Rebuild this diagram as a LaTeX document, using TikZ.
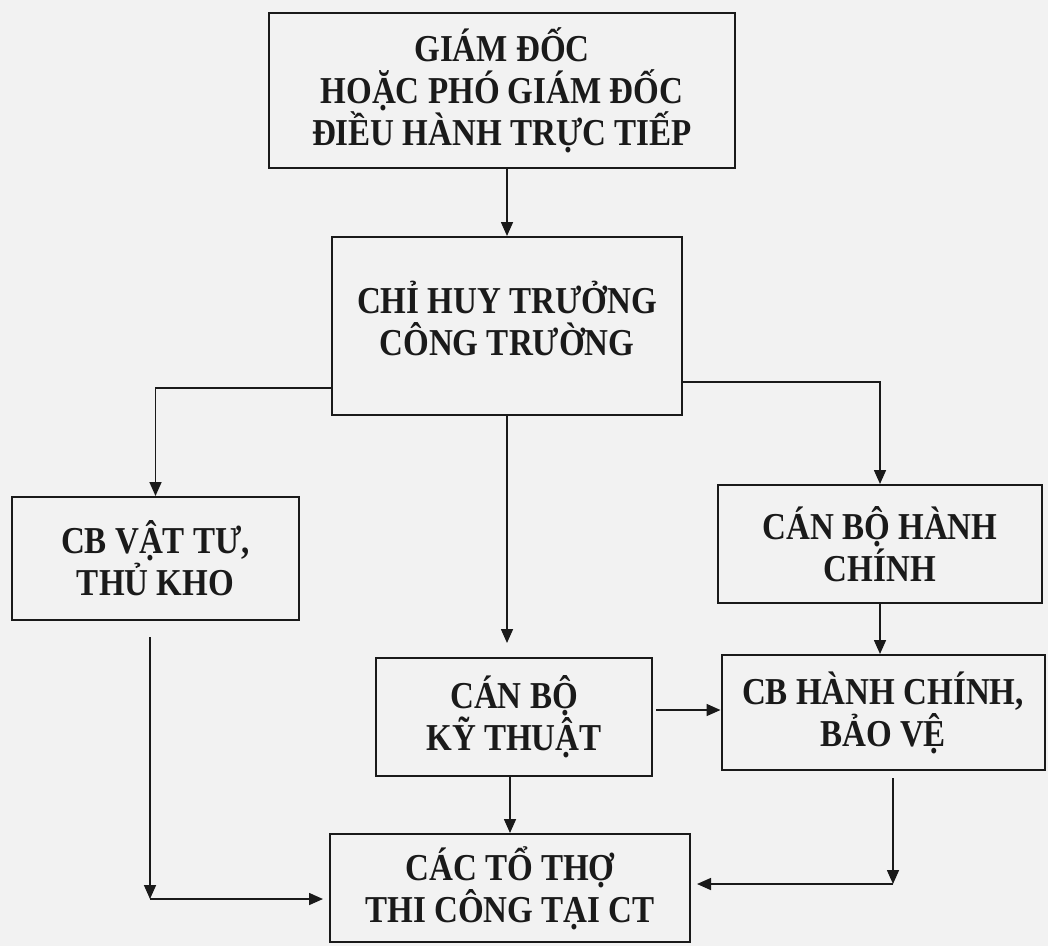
\documentclass[tikz,border=0pt]{standalone}
\usepackage{fontspec}
\setmainfont{Liberation Serif}[FakeStretch=0.87]
\usetikzlibrary{arrows.meta}
\definecolor{ink}{HTML}{1A1A1A}
\definecolor{paper}{HTML}{F2F2F2}
\begin{document}
\begin{tikzpicture}[x=1pt,y=-1pt,
  box/.style={draw=ink,text=ink,line width=2pt,rectangle,inner sep=0pt,align=center,
    font=\bfseries\fontsize{38}{42}\selectfont},
  conn/.style={draw=ink,line width=1.6pt,-{Triangle[length=14pt,width=12pt]}}]
\fill[paper] (0,0) rectangle (1048,946);
\useasboundingbox (0,0) rectangle (1048,946);
\node[box,minimum width=466pt,minimum height=155pt] (gd) at (502,90.5)
  {GIÁM ĐỐC\\HOẶC PHÓ GIÁM ĐỐC\\ĐIỀU HÀNH TRỰC TIẾP};
\node[box,minimum width=350pt,minimum height=178pt] (cht) at (507,326)
  {CHỈ HUY TRƯỞNG\\CÔNG TRƯỜNG\\[-26pt]};
\node[box,minimum width=287pt,minimum height=123pt] (vt) at (155.5,558.5)
  {CB VẬT TƯ,\\THỦ KHO};
\node[box,minimum width=324pt,minimum height=118pt] (hc) at (880,544)
  {CÁN BỘ HÀNH\\CHÍNH};
\node[box,minimum width=323pt,minimum height=115pt] (bv) at (883,712.5)
  {CB HÀNH CHÍNH,\\BẢO VỆ};
\node[box,minimum width=276pt,minimum height=118pt] (kt) at (514,717)
  {CÁN BỘ\\KỸ THUẬT};
\node[box,minimum width=360pt,minimum height=108pt] (tt) at (510,888)
  {CÁC TỔ THỢ\\THI CÔNG TẠI CT};
\coordinate (l2) at (150,899);
\coordinate (r2) at (893,884);
\draw[conn] (cht.north |- gd.south) -- (cht.north);
\draw[conn] ([yshift=-62pt]cht.west) -| (vt.north);
\draw[conn] ([yshift=-56pt]cht.east) -| (hc.north);
\draw[conn,shorten >=14pt] (cht.south) -- (cht.south |- kt.north);
\draw[conn] (hc.south) -- (hc.south |- bv.north);
\draw[conn,shorten <=3pt] ([yshift=7pt]kt.east) -- ([yshift=7pt]kt.east -| bv.west);
\draw[conn] (tt.north |- kt.south) -- (tt.north);
\draw[conn,shorten <=16pt] (vt.south -| l2) -- (l2);
\draw[conn,shorten >=6pt] (l2) -- (l2 -| tt.west);
\draw[conn,shorten <=7pt] (bv.south -| r2) -- (r2);
\draw[conn,shorten >=6pt] (r2) -- (r2 -| tt.east);
\end{tikzpicture}
\end{document}
